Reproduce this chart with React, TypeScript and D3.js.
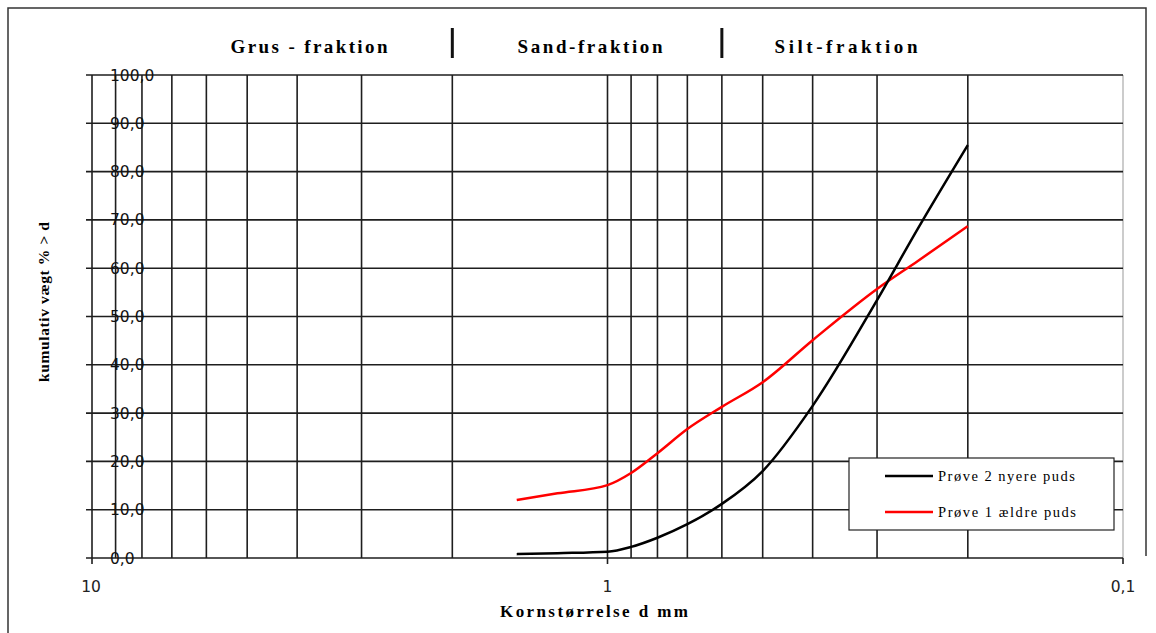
import React, { useEffect, useRef } from 'react';
import * as d3 from 'd3';

// grain sizes (mm) where the curves were read
const sizes = [1.5, 1.25, 1, 0.9, 0.8, 0.7, 0.6, 0.5, 0.4, 0.3, 0.25, 0.2];
// Prøve 2 nyere puds (black)
const sample2 = [0.8, 1.0, 1.3, 2.3, 4.2, 7.0, 11.2, 18.0, 31.5, 53.4, 68.2, 85.5];
// Prøve 1 ældre puds (red)
const sample1 = [12.0, 13.4, 15.1, 17.6, 21.7, 26.7, 31.3, 36.4, 45.1, 55.7, 61.5, 68.7];

const gridSizes = [9, 8, 7, 6, 5, 4, 3, 2, 1, 0.9, 0.8, 0.7, 0.6, 0.5, 0.4, 0.3, 0.2];
const axisTicks = [10, 1, 0.1];
const yTicks = d3.range(0, 101, 10);
const fractions = [
  { label: 'Grus - fraktion', x: 309, w: 157 },
  { label: 'Sand-fraktion', x: 590, w: 145 },
  { label: 'Silt-fraktion', x: 846, w: 143 },
];
const separators = [2, 0.6];
const legendItems = [
  { label: 'Prøve 2 nyere puds', color: '#000000', w: 137 },
  { label: 'Prøve 1 ældre puds', color: '#ff0000', w: 138 },
];

const width = 1156;
const height = 633;

const GrainChart: React.FC = () => {
  const svgRef = useRef<SVGSVGElement>(null);

  useEffect(() => {
    if (!svgRef.current) return;
    d3.select(svgRef.current).selectAll('*').remove();

    const svg = d3.select(svgRef.current)
      .attr('width', width)
      .attr('height', height);

    const x = d3.scaleLog().domain([10, 0.1]).range([92, 1123]);
    const y = d3.scaleLinear().domain([0, 100]).range([558, 75]);
    const serif = '"Liberation Serif", "Times New Roman", serif';
    const sans = '"DejaVu Sans", sans-serif';
    const gridColor = '#1e1e1e';

    svg.append('rect').attr('width', width).attr('height', height).attr('fill', '#fff');

    // outer frame
    svg.append('path')
      .attr('d', 'M8,640 V8 H1146 V556')
      .attr('fill', 'none')
      .attr('stroke', '#333')
      .attr('stroke-width', 1.5);

    // right boundary of plot
    svg.append('line')
      .attr('x1', x(0.1)).attr('x2', x(0.1))
      .attr('y1', y(100)).attr('y2', y(0))
      .attr('stroke', '#999').attr('stroke-width', 1);

    // horizontal grid + y ticks
    yTicks.forEach(t => {
      svg.append('line')
        .attr('x1', x(10) - 6).attr('x2', x(0.1))
        .attr('y1', y(t)).attr('y2', y(t))
        .attr('stroke', gridColor).attr('stroke-width', 1.6);
    });

    // vertical grid
    gridSizes.forEach(d => {
      svg.append('line')
        .attr('x1', x(d)).attr('x2', x(d))
        .attr('y1', y(100)).attr('y2', y(0) + (d === 1 ? 6 : 0))
        .attr('stroke', gridColor).attr('stroke-width', 1.6);
    });

    // left axis line
    svg.append('line')
      .attr('x1', x(10)).attr('x2', x(10))
      .attr('y1', y(100)).attr('y2', y(0) + 6)
      .attr('stroke', gridColor).attr('stroke-width', 1.6);
    svg.append('line')
      .attr('x1', x(0.1)).attr('x2', x(0.1))
      .attr('y1', y(0)).attr('y2', y(0) + 6)
      .attr('stroke', gridColor).attr('stroke-width', 1.6);

    // y tick labels
    yTicks.forEach(t => {
      svg.append('text')
        .attr('x', 110)
        .attr('y', y(t))
        .attr('dy', '0.36em')
        .style('font-family', sans)
        .style('font-size', '15.5px')
        .style('fill', '#111')
        .text(`${t},0`);
    });

    // x tick labels
    axisTicks.forEach(t => {
      svg.append('text')
        .attr('x', x(t) - (t === 10 ? 1 : 0))
        .attr('y', 592)
        .attr('text-anchor', 'middle')
        .style('font-family', sans)
        .style('font-size', '15.5px')
        .style('fill', '#222')
        .text(String(t).replace('.', ','));
    });

    // fraction headers
    fractions.forEach(f => {
      svg.append('text')
        .attr('x', f.x - f.w / 2)
        .attr('y', 53)
        .attr('textLength', f.w)
        .attr('lengthAdjust', 'spacing')
        .style('font-family', serif)
        .style('font-weight', 'bold')
        .style('font-size', '19px')
        .text(f.label);
    });
    separators.forEach(d => {
      svg.append('line')
        .attr('x1', x(d)).attr('x2', x(d))
        .attr('y1', 28).attr('y2', 58)
        .attr('stroke', '#111').attr('stroke-width', 3);
    });

    // curves
    const line = d3.line<number>()
      .x((_, i) => x(sizes[i]))
      .y(v => y(v))
      .curve(d3.curveMonotoneX);

    svg.append('path')
      .attr('d', line(sample1) as string)
      .attr('fill', 'none')
      .attr('stroke', '#ff0000')
      .attr('stroke-width', 2.5);
    svg.append('path')
      .attr('d', line(sample2) as string)
      .attr('fill', 'none')
      .attr('stroke', '#000')
      .attr('stroke-width', 2.5);

    // legend
    const lg = svg.append('g').attr('transform', 'translate(849,458)');
    lg.append('rect')
      .attr('width', 265).attr('height', 72)
      .attr('fill', '#fff').attr('stroke', '#222').attr('stroke-width', 1.2);
    legendItems.forEach((item, i) => {
      const ly = 18 + i * 36;
      lg.append('line')
        .attr('x1', 36).attr('x2', 84)
        .attr('y1', ly).attr('y2', ly)
        .attr('stroke', item.color).attr('stroke-width', 2.5);
      lg.append('text')
        .attr('x', 89)
        .attr('y', ly + 5)
        .attr('textLength', item.w)
        .attr('lengthAdjust', 'spacing')
        .style('font-family', serif)
        .style('font-size', '14.5px')
        .text(item.label);
    });

    // axis titles
    svg.append('text')
      .attr('x', 500)
      .attr('y', 617)
      .attr('textLength', 188)
      .attr('lengthAdjust', 'spacing')
      .style('font-family', serif)
      .style('font-weight', 'bold')
      .style('font-size', '17px')
      .text('Kornstørrelse d mm');

    svg.append('text')
      .attr('transform', 'translate(49,382) rotate(-90)')
      .attr('textLength', 160)
      .attr('lengthAdjust', 'spacing')
      .style('font-family', serif)
      .style('font-weight', 'bold')
      .style('font-size', '15.5px')
      .text('kumulativ vægt % > d');
  }, []);

  return (
    <div style={{ position: 'absolute', left: 0, top: 0 }}>
      <svg ref={svgRef} style={{ display: 'block' }} />
    </div>
  );
};

export default function App() {
  return <GrainChart />;
}
